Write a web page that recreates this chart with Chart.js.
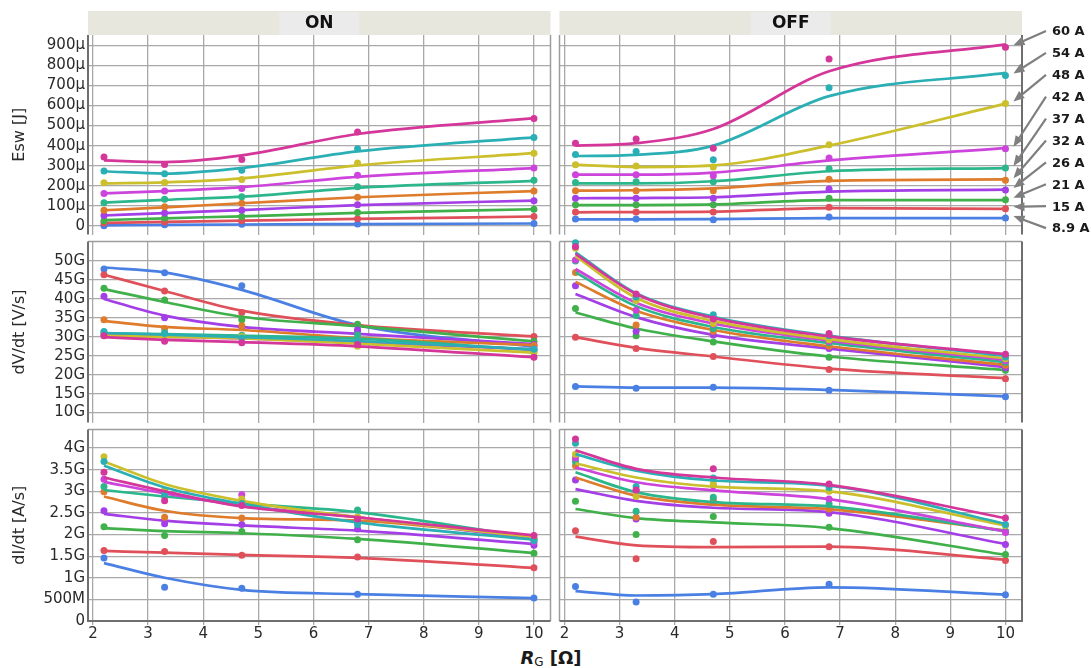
<!DOCTYPE html>
<html><head><meta charset="utf-8">
<script src="https://cdn.jsdelivr.net/npm/chart.js@4.4.1/dist/chart.umd.min.js"></script>
<style>
html,body{margin:0;padding:0;background:#fff;}
body{width:1091px;height:668px;position:relative;overflow:hidden;font-family:"DejaVu Sans",sans-serif;}
#xt{position:absolute;left:451px;width:200px;top:649px;text-align:center;font:bold 18px "DejaVu Sans";line-height:18px;color:#1a1a1a;white-space:nowrap;}
#xt sub{font-size:12px;font-weight:normal;vertical-align:-2px;line-height:0;}
</style></head><body>
<div id="xt"><i>R</i><sub>G</sub> [Ω]</div>
<script>
// ---------- data ----------
const RG = [2.2, 3.3, 4.7, 6.8, 10];
const CURRENTS = ['8.9 A','15 A','21 A','26 A','32 A','37 A','42 A','48 A','54 A','60 A'];
const COLORS = ['#4a7fe3','#e0505a','#40b04a','#a43ee6','#de7c2c','#2cb68c','#cc44dc','#cbbf2c','#2aafb5','#d4369a'];
const X_TICKS = [2,3,4,5,6,7,8,9,10];
const ESW_TICKS = [0,100,200,300,400,500,600,700,800,900];
const ESW_LABELS = ['0','100μ','200μ','300μ','400μ','500μ','600μ','700μ','800μ','900μ'];
const DVDT_TICKS = [10,15,20,25,30,35,40,45,50];
const DVDT_LABELS = ['10G','15G','20G','25G','30G','35G','40G','45G','50G'];
const DIDT_TICKS = [0,0.5,1,1.5,2,2.5,3,3.5,4];
const DIDT_LABELS = ['0','500M','1G','1.5G','2G','2.5G','3G','3.5G','4G'];

// Esw in µJ, series order 8.9 A ... 60 A, values at RG
const ESW_ON_PTS = [
 [0,5,7,8,11],[13,18,25,35,46],[25,38,46,66,82],[51,63,77,104,125],[77,94,112,142,173],
 [115,132,145,194,227],[161,173,186,252,288],[214,216,231,313,362],[273,260,277,384,441],[343,306,330,468,535]];
const ESW_ON_FIT = [
 [2,4,6,8,11],[14,19,25,34,46],[28,37,47,64,82],[51,63,78,103,125],[77,91,112,142,173],
 [115,129,145,189,224],[161,173,193,244,288],[211,216,236,301,362],[272,260,288,371,441],[326,318,351,458,537]];
const ESW_OFF_PTS = [
 [33,33,30,43,38],[68,68,68,92,84],[104,104,104,137,130],[137,137,137,183,178],[175,175,175,232,227],
 [216,219,219,285,288],[255,255,249,338,384],[305,298,293,404,610],[356,371,329,689,750],[412,433,387,832,891]];
const ESW_OFF_FIT = [
 [32,32,33,38,38],[67,68,70,88,84],[103,103,106,128,128],[137,138,142,170,180],[175,177,186,224,231],
 [211,211,222,272,288],[255,255,265,326,387],[305,293,301,400,610],[348,354,400,647,763],[400,412,483,771,906]];
// dV/dt in GV/s
const DVDT_ON_PTS = [
 [47.9,46.9,43.5,31.6,27.4],[46.4,42.1,36.4,33.1,30.1],[42.8,39.7,34.5,33.3,28.8],[40.7,35.0,32.6,31.8,28.0],
 [34.5,32.2,32.9,28.4,27.7],[31.1,31.1,30.4,30.5,26.3],[30.5,30.3,29.9,28.4,26.7],[30.3,30.3,30.1,27.5,25.7],
 [31.4,30.9,29.7,28.8,26.7],[30.3,28.8,28.4,28.0,24.6]];
const DVDT_ON_FIT = [
 [48.3,47.0,42.4,33.1,27.4],[46.4,42.1,36.9,33.1,30.1],[42.6,39.2,35.3,32.8,28.8],[40.0,35.6,32.6,30.8,28.1],
 [34.2,32.6,31.8,29.7,27.8],[30.9,30.7,30.3,29.5,26.5],[30.4,30.0,29.6,28.6,26.7],[30.3,30.0,29.6,28.2,25.8],
 [31.0,30.6,29.9,28.9,26.7],[29.9,29.2,28.6,27.5,24.6]];
const DVDT_OFF_PTS = [
 [16.9,16.4,16.7,15.9,14.2],[29.9,26.9,24.8,21.4,18.9],[37.5,30.3,28.6,24.6,21.2],[43.5,31.5,30.5,26.9,21.8],
 [47.0,33.1,31.5,27.5,22.5],[50.0,35.6,32.2,28.4,23.3],[50.3,37.0,33.3,28.8,23.7],[53.4,39.6,33.5,29.2,24.2],
 [54.8,40.5,35.8,30.3,24.7],[53.8,41.3,34.7,30.9,25.4]];
const DVDT_OFF_FIT = [
 [16.9,16.6,16.6,16.0,14.3],[29.9,27.1,24.8,21.6,19.1],[36.4,32.2,28.8,24.8,21.2],[41.3,35.2,30.5,26.9,22.0],
 [44.5,36.9,31.8,27.5,22.6],[47.0,38.1,32.6,28.4,23.3],[47.9,39.0,33.5,29.0,23.9],[51.3,40.3,34.2,29.4,24.3],
 [52.3,41.5,35.3,30.3,25.0],[51.9,41.3,35.0,30.1,25.4]];
// dI/dt in GA/s
const DIDT_ON_PTS = [
 [1.46,0.78,0.76,0.62,0.53],[1.63,1.61,1.52,1.48,1.23],[2.18,1.98,2.07,1.88,1.57],[2.55,2.25,2.23,2.13,1.75],
 [2.99,2.40,2.38,2.40,1.90],[3.11,2.88,2.75,2.57,1.90],[3.28,2.95,2.92,2.32,1.82],[3.80,3.03,2.82,2.40,1.90],
 [3.69,2.94,2.72,2.23,1.86],[3.44,2.78,2.67,2.36,1.98]];
const DIDT_ON_FIT = [
 [1.34,1.00,0.72,0.62,0.53],[1.62,1.58,1.53,1.46,1.23],[2.15,2.08,2.03,1.90,1.57],[2.48,2.32,2.21,2.09,1.78],
 [2.88,2.55,2.38,2.32,1.94],[3.03,2.88,2.72,2.52,1.92],[3.22,2.95,2.67,2.40,1.90],[3.69,3.17,2.78,2.40,1.94],
 [3.59,3.09,2.71,2.28,1.88],[3.32,3.00,2.65,2.40,1.98]];
const DIDT_OFF_PTS = [
 [0.80,0.44,0.62,0.85,0.61],[2.09,1.44,1.84,1.72,1.40],[2.77,2.00,2.42,2.17,1.54],[3.26,2.36,2.75,2.49,1.77],
 [3.59,2.40,2.80,2.59,2.07],[3.69,2.54,2.86,2.71,2.08],[3.77,3.02,3.13,2.82,2.05],[3.86,2.88,3.18,3.00,2.21],
 [4.11,3.11,3.31,3.09,2.23],[4.21,3.03,3.52,3.17,2.38]];
const DIDT_OFF_FIT = [
 [0.69,0.59,0.62,0.78,0.61],[1.95,1.75,1.71,1.72,1.42],[2.59,2.38,2.28,2.15,1.53],[3.05,2.78,2.62,2.52,1.78],
 [3.32,2.90,2.69,2.59,2.09],[3.44,2.98,2.75,2.65,2.08],[3.55,3.21,3.02,2.82,2.07],[3.65,3.32,3.11,3.00,2.21],
 [3.86,3.48,3.25,3.13,2.25],[3.95,3.52,3.32,3.15,2.38]];
const STRIPS = ['ON','OFF'];

// ---------- layout ----------
const ROWS = [
 {title:'Esw [J]',     min:-44,  max:952.5, ticks:ESW_TICKS,  labels:ESW_LABELS,  data:[[ESW_ON_PTS,ESW_ON_FIT],[ESW_OFF_PTS,ESW_OFF_FIT]]},
 {title:'dV/dt [V/s]', min:7.38, max:55.16, ticks:DVDT_TICKS, labels:DVDT_LABELS, data:[[DVDT_ON_PTS,DVDT_ON_FIT],[DVDT_OFF_PTS,DVDT_OFF_FIT]]},
 {title:'dI/dt [A/s]', min:0,    max:4.43,  ticks:DIDT_TICKS, labels:DIDT_LABELS, data:[[DIDT_ON_PTS,DIDT_ON_FIT],[DIDT_OFF_PTS,DIDT_OFF_FIT]]}
];
const COL_X = [0, 556], COL_W = [554, 535];
const ROW_Y = [0, 238, 426], ROW_H = [238, 188, 242];
const FONT = '"DejaVu Sans", sans-serif';
const GRID = '#a9a9a9';

function line(ctx,x1,y1,x2,y2){ctx.beginPath();ctx.moveTo(x1,y1);ctx.lineTo(x2,y2);ctx.stroke();}

function makePanel(r, c) {
  const row = ROWS[r];
  const PTS = row.data[c][0], FIT = row.data[c][1];
  const cv = document.createElement('canvas');
  cv.width = COL_W[c]; cv.height = ROW_H[r];
  cv.style.cssText = 'position:absolute;left:'+COL_X[c]+'px;top:'+ROW_Y[r]+'px;width:'+COL_W[c]+'px;height:'+ROW_H[r]+'px';
  document.body.appendChild(cv);
  const datasets = [];
  for (let i = CURRENTS.length - 1; i >= 0; i--) {
    datasets.push({label: CURRENTS[i] + ' measured', data: RG.map((x, j) => ({x: x, y: PTS[i][j]})),
      showLine: false, pointRadius: 3.5, pointHoverRadius: 3.5, pointBackgroundColor: COLORS[i],
      pointBorderWidth: 0, borderColor: COLORS[i], clip: false});
    datasets.push({label: CURRENTS[i], data: RG.map((x, j) => ({x: x, y: FIT[i][j]})),
      showLine: true, pointRadius: 0, pointHoverRadius: 0, borderColor: COLORS[i], borderWidth: 2.7,
      cubicInterpolationMode: 'monotone', fill: false, clip: false});
  }
  const plugins = [{
    id: 'frame',
    beforeDatasetsDraw(chart) {
      const ctx = chart.ctx, a = chart.chartArea;
      ctx.save();
      ctx.strokeStyle = '#9c9c9c'; ctx.lineWidth = 1.5;
      if (r > 0) line(ctx, a.left, a.top, a.right, a.top);
      if (c === 0) line(ctx, a.right, a.top, a.right, a.bottom); else line(ctx, a.left, a.top, a.left, a.bottom);
      ctx.strokeStyle = '#6f6f6f'; ctx.lineWidth = 2;
      if (c === 0) line(ctx, a.left, a.top, a.left, a.bottom + (r === 2 ? 1 : 0));
      if (c === 1) line(ctx, a.right, a.top, a.right, a.bottom + (r === 2 ? 1 : 0));
      if (r === 2) line(ctx, a.left, a.bottom, a.right, a.bottom);
      ctx.restore();
    }
  }];
  if (r === 0) plugins.push({
    id: 'strip',
    afterDraw(chart) {
      const ctx = chart.ctx, a = chart.chartArea;
      ctx.save();
      ctx.fillStyle = '#e7e7de'; ctx.fillRect(a.left, 11, a.right - a.left, 24);
      const cx = (a.left + a.right) / 2;
      ctx.fillStyle = '#ebebeb'; ctx.fillRect(cx - 40, 12, 80, 23);
      ctx.fillStyle = '#111'; ctx.font = 'bold 17px ' + FONT;
      ctx.textAlign = 'center'; ctx.textBaseline = 'middle';
      ctx.fillText(STRIPS[c], cx, 24);
      ctx.restore();
    }
  });
  if (r === 0 && c === 1) plugins.push({
    id: 'currentLabels',
    afterDraw(chart) {
      const ctx = chart.ctx, xs = chart.scales.x, ys = chart.scales.y;
      const xp = xs.getPixelForValue(RG[RG.length - 1]);
      const ox = COL_X[1];
      ctx.save();
      ctx.font = 'bold 13px ' + FONT; ctx.textAlign = 'left'; ctx.textBaseline = 'middle';
      for (let k = 0; k < CURRENTS.length; k++) {
        const i = CURRENTS.length - 1 - k;
        const ly = 32 + k * 21.9;
        const yp = ys.getPixelForValue(PTS[i][RG.length - 1]);
        const x1 = 1046 - ox, y1 = ly - 1, x2 = xp + 8, y2 = yp - 2;
        const ang = Math.atan2(y2 - y1, x2 - x1);
        ctx.strokeStyle = '#7f7f7f'; ctx.fillStyle = '#7f7f7f'; ctx.lineWidth = 2.2;
        const hx = x2 - 9 * Math.cos(ang), hy = y2 - 9 * Math.sin(ang);
        line(ctx, x1, y1, hx, hy);
        ctx.beginPath();
        ctx.moveTo(x2, y2);
        ctx.lineTo(x2 - 11 * Math.cos(ang) + 4.5 * Math.sin(ang), y2 - 11 * Math.sin(ang) - 4.5 * Math.cos(ang));
        ctx.lineTo(x2 - 11 * Math.cos(ang) - 4.5 * Math.sin(ang), y2 - 11 * Math.sin(ang) + 4.5 * Math.cos(ang));
        ctx.closePath(); ctx.fill();
        ctx.fillStyle = '#1a1a1a';
        ctx.fillText(CURRENTS[i], 1052 - ox, ly);
      }
      ctx.restore();
    }
  });
  new Chart(cv, {
    type: 'scatter',
    data: {datasets: datasets},
    plugins: plugins,
    options: {
      responsive: false, animation: false, devicePixelRatio: 1,
      events: [],
      layout: {padding: {top: r === 0 ? 35 : 0, right: c === 1 ? COL_W[1] - 466 : 0, left: 0, bottom: 0}},
      plugins: {legend: {display: false}, tooltip: {enabled: false}},
      scales: {
        x: {
          type: 'linear', min: 1.91, max: 10.3,
          afterBuildTicks: s => { s.ticks = X_TICKS.map(v => ({value: v})); },
          afterFit: s => { s.height = r === 2 ? ROW_H[2] - 195 : 0; s.paddingLeft = 0; s.paddingRight = 0; },
          grid: {color: GRID, lineWidth: 1.3, drawTicks: r === 2, tickLength: 4},
          border: {display: false},
          ticks: {display: r === 2, autoSkip: false, color: '#2a2a2a', font: {family: FONT, size: 15}, padding: 0, maxRotation: 0,
                  callback: v => String(v)}
        },
        y: {
          type: 'linear', min: row.min, max: row.max,
          afterBuildTicks: s => { s.ticks = row.ticks.map(v => ({value: v})); },
          afterFit: s => { s.width = c === 0 ? 88 : 0; s.paddingTop = 0; s.paddingBottom = 0; },
          grid: {color: GRID, lineWidth: 1.3, drawTicks: false},
          border: {display: false},
          ticks: {display: c === 0, autoSkip: false, color: '#2a2a2a', font: {family: FONT, size: 15}, padding: 3,
                  callback: v => row.labels[row.ticks.indexOf(v)]},
          title: {display: c === 0, text: row.title, color: '#2a2a2a', font: {family: FONT, size: 16},
                  padding: {top: 10, bottom: 0}}
        }
      }
    }
  });
}
for (let r = 0; r < 3; r++) for (let c = 0; c < 2; c++) makePanel(r, c);
</script>
</body></html>
